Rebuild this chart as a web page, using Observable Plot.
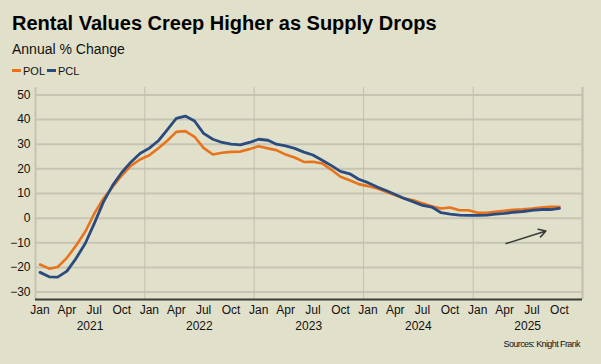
<!DOCTYPE html>
<html><head><meta charset="utf-8">
<script src="https://cdn.jsdelivr.net/npm/d3@7"></script>
<script src="https://cdn.jsdelivr.net/npm/@observablehq/plot@0.6"></script>
<style>
html,body{margin:0;padding:0;}
body{background:#E1E0CA;font-family:"Liberation Sans",Arial,sans-serif;width:601px;height:364px;overflow:hidden;position:relative;color:#000;}
.abs{position:absolute;line-height:1;white-space:nowrap;}
#title{left:12px;top:13px;font-size:20px;font-weight:bold;}
#sub{left:12px;top:41.5px;font-size:14px;color:#111;}
#legend{left:12px;top:65.5px;font-size:11px;color:#111;}
.sw{display:inline-block;width:9px;height:3px;vertical-align:middle;margin-right:2px;position:relative;top:-1px;}
.item{margin-right:2px;}
#chart{position:absolute;left:0;top:80px;}
#src{right:21px;top:339.5px;font-size:9px;letter-spacing:-0.6px;color:#111;}
</style>
</head><body>
<div id="title" class="abs">Rental Values Creep Higher as Supply Drops</div>
<div id="sub" class="abs">Annual % Change</div>
<div id="legend" class="abs"></div>
<div id="chart"></div>
<div id="src" class="abs">Sources: Knight Frank</div>
<script>
// Series (monthly, Jan 2021 – Oct 2025), annual % change
const seriesNames = ["POL", "PCL"];
const seriesColors = ["#E8731C", "#2B4B7E"];
const pol = [-18.8,-20.5,-19.8,-16.1,-11.2,-5.5,1.8,8.0,12.8,17.3,21.3,23.8,
  25.5,28.5,31.3,35.0,35.3,33.0,28.5,25.8,26.5,26.9,27.0,28.0,
  29.2,28.3,27.6,25.8,24.6,22.8,22.9,22.2,19.6,16.8,15.4,13.8,
  13.0,12.0,10.7,9.3,8.0,7.3,6.0,4.8,3.9,4.3,3.2,3.2,
  2.2,2.2,2.6,3.0,3.4,3.6,3.9,4.3,4.6,4.6];
const pcl = [-22.0,-23.8,-23.9,-21.5,-16.4,-10.3,-2.2,6.6,13.4,18.5,22.8,26.2,
  28.4,31.5,35.7,40.5,41.4,39.4,34.4,32.0,30.7,30.0,29.7,30.7,
  32.0,31.6,30.0,29.3,28.3,26.8,25.6,23.5,21.3,19.0,18.0,15.8,
  14.4,12.6,11.2,9.6,8.0,6.6,5.2,4.5,2.2,1.6,1.2,1.1,
  1.1,1.2,1.6,1.9,2.4,2.7,3.2,3.5,3.5,4.0];
const startYear = 2021;
const years = [2021, 2022, 2023, 2024, 2025];
const monthTickMonths = [0, 3, 6, 9]; // Jan, Apr, Jul, Oct
const yTicks = [-30, -20, -10, 0, 10, 20, 30, 40, 50];
const yDomain = [-33, 53];
// annotation arrow (date, value) from tail to head
const arrowFrom = ["2025-04-21", -10.3];
const arrowTo = ["2025-09-01", -5.2];

const mid = i => new Date(Date.UTC(startYear, i, 16));
const rows = pol.map((v, i) => ({date: mid(i), pol: v, pcl: pcl[i]}));
const x0 = new Date(Date.UTC(years[0], 0, 1));
const x1 = new Date(Date.UTC(years[years.length - 1] + 1, 0, 1));
const yearStarts = years.slice(1).map(y => new Date(Date.UTC(y, 0, 1)));
const monthTicks = years.flatMap(y => monthTickMonths.map(m => new Date(Date.UTC(y, m, 16))));
const yearMids = years.map(y => new Date(Date.UTC(y, 6, 2)));
const arrows = [{xa: new Date(arrowFrom[0]), ya: arrowFrom[1], xb: new Date(arrowTo[0]), yb: arrowTo[1]}];

document.getElementById("legend").innerHTML = seriesNames.map((n, i) =>
  `<span class="item"><span class="sw" style="background:${seriesColors[i]}"></span>${n}</span>`).join("");

const chart = Plot.plot({
  width: 601, height: 284,
  marginTop: 7, marginBottom: 65, marginLeft: 35, marginRight: 19,
  style: {background: "transparent", fontFamily: "'Liberation Sans', Arial, sans-serif", fontSize: "12px", color: "#111"},
  x: {type: "utc", domain: [x0, x1]},
  y: {domain: yDomain},
  marks: [
    Plot.ruleY(yTicks, {stroke: "#C6C5B3", strokeWidth: 2}),
    Plot.ruleX(yearStarts, {stroke: "#C2C1B2", strokeWidth: 1}),
    Plot.ruleX([x0], {stroke: "#C6C5B3", strokeWidth: 2}),
    Plot.ruleX([x1], {stroke: "#C6C5B3", strokeWidth: 2.5}),
    Plot.line(rows, {x: "date", y: "pol", stroke: seriesColors[0], strokeWidth: 2.6}),
    Plot.line(rows, {x: "date", y: "pcl", stroke: seriesColors[1], strokeWidth: 2.8}),
    Plot.arrow(arrows, {x1: "xa", y1: "ya", x2: "xb", y2: "yb", stroke: "#3a3a3a", strokeWidth: 1.5, headLength: 8}),
    Plot.ruleY([yDomain[0]], {stroke: "#3b3b3b", strokeWidth: 2}),
    Plot.axisY(yTicks, {tickSize: 0, tickPadding: 5, label: null}),
    Plot.axisX(monthTicks, {tickSize: 0, tickPadding: 5.5, tickFormat: d3.utcFormat("%b"), label: null}),
    Plot.axisX(yearMids, {tickSize: 0, tickPadding: 21.5, tickFormat: d3.utcFormat("%Y"), label: null})
  ]
});
document.getElementById("chart").appendChild(chart);
</script>
</body></html>
